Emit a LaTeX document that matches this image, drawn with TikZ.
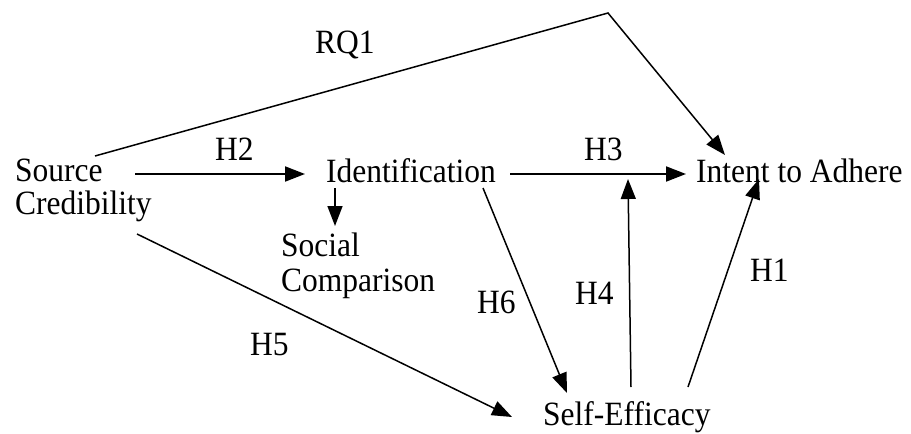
\documentclass[tikz,border=0pt]{standalone}
\usepackage{graphicx}
\usepackage{fontspec}
\setmainfont{Liberation Serif}
\usetikzlibrary{arrows.meta}
\newcommand\tallt[1]{\scalebox{1}[1.08]{#1}}
\begin{document}
\begin{tikzpicture}[x=1pt,y=-1pt,
  lbl/.style={font=\fontsize{31.5}{33}\selectfont, inner sep=0pt, anchor=base west, align=left},
  hyp/.style={font=\fontsize{31.5}{33}\selectfont, inner sep=0pt, anchor=base west},
  arr/.style={-{Triangle[length=20pt,width=15pt]}, line width=1.5pt},
  harr/.style={arr, line width=2pt}]
\useasboundingbox (0,0) rectangle (911,434);
% concept nodes (base anchor = baseline of the last line)
\node[lbl] (src) at (15,214) {\tallt{Source}\\\tallt{Credibility}};
\node[lbl] (ident) at (326,182) {\tallt{Identification}};
\node[lbl] (intent) at (696,182) {\tallt{Intent to Adhere}};
\node[lbl, font=\fontsize{31.5}{35}\selectfont] (soc) at (281,291) {\tallt{Social}\\\tallt{Comparison}};
\node[lbl] (self) at (543,425) {\tallt{Self-Efficacy}};
% path labels
\node[hyp] (lrq1) at (315,53) {\tallt{RQ1}};
\node[hyp] (lh2) at (215,160) {\tallt{H2}};
\node[hyp] (lh3) at (584,160) {\tallt{H3}};
\node[hyp] (lh6) at (477,313) {\tallt{H6}};
\node[hyp] (lh4) at (575,304) {\tallt{H4}};
\node[hyp] (lh1) at (750,281) {\tallt{H1}};
\node[hyp] (lh5) at (250,355) {\tallt{H5}};
% connector end points
\coordinate (srcTop) at (95,156);
\coordinate (apex) at (608,13);
\coordinate (intentTop) at (725,155);
\coordinate (srcEast) at (135,174);
\coordinate (identWest) at (305,174);
\coordinate (identEast) at (510,174);
\coordinate (intentWest) at (686,174);
\coordinate (identSouth) at (335,188);
\coordinate (socNorth) at (335,226);
\coordinate (identSE) at (483,188);
\coordinate (selfN) at (567,393);
\coordinate (selfTop) at (631,387);
\coordinate (intentSW) at (628,179);
\coordinate (selfTopR) at (688,387);
\coordinate (intentS) at (759,179);
\coordinate (srcSE) at (137,234);
\coordinate (selfW) at (512,417);
% connectors
\draw[arr, line join=miter] (srcTop) -- (apex) -- (intentTop);
\draw[harr] (srcEast) -- (identWest);
\draw[harr] (identEast) -- (intentWest);
\draw[arr] (identSouth) -- (socNorth);
\draw[arr] (identSE) -- (selfN);
\draw[arr] (selfTop) -- (intentSW);
\draw[arr] (selfTopR) -- (intentS);
\draw[arr] (srcSE) -- (selfW);
\end{tikzpicture}
\end{document}
